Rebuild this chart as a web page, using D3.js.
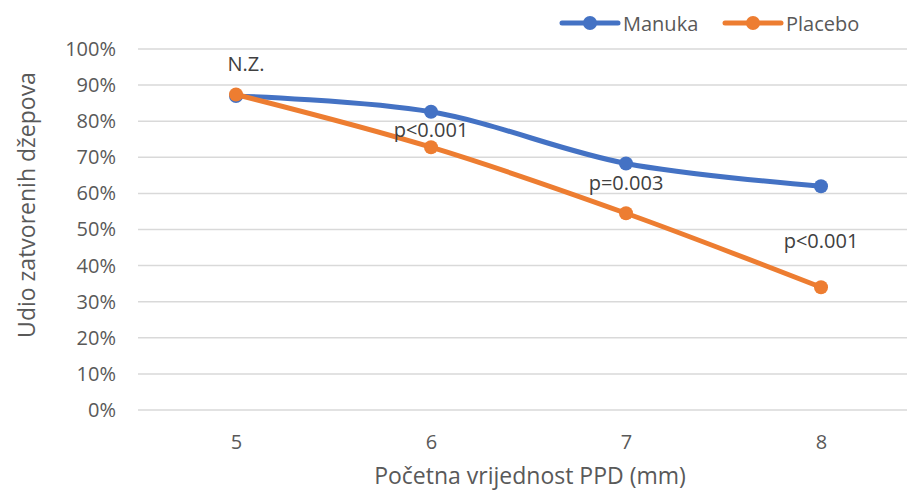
<!DOCTYPE html>
<html>
<head>
<meta charset="utf-8">
<script src="https://cdn.jsdelivr.net/npm/d3@7"></script>
<style>
	body { margin: 0; background: #ffffff; }
	text { font-family: "Open Sans", sans-serif; }
</style>
</head>
<body>
<svg id="chart" width="907" height="491"></svg>
<script>
// Data
var categories = ["5", "6", "7", "8"];
var manuka = [0.87, 0.826, 0.683, 0.62];
var placebo = [0.874, 0.728, 0.545, 0.34];
var series_names = ["Manuka", "Placebo"];
var y_ticks = [0, 0.1, 0.2, 0.3, 0.4, 0.5, 0.6, 0.7, 0.8, 0.9, 1.0];
var notes = ["N.Z.", "p<0.001", "p=0.003", "p<0.001"];

var svg = d3.select("#chart");

var x = d3.scalePoint().domain(categories).range([236, 821]);
var y = d3.scaleLinear().domain([0, 1]).range([410, 49]);

// Horizontal grid lines
svg.append("g")
	.selectAll("line")
	.data(y_ticks)
	.join("line")
	.attr("x1", 138)
	.attr("x2", 918)
	.attr("y1", function(d) { return y(d); })
	.attr("y2", function(d) { return y(d); })
	.attr("stroke", "#d9d9d9")
	.attr("stroke-width", 1.5);

// Y axis labels
var y_axis = d3.axisLeft(y).tickValues(y_ticks).tickFormat(d3.format(".0%")).tickSize(0).tickPadding(0);
svg.append("g")
	.attr("transform", "translate(116,0)")
	.call(y_axis)
	.call(function(g) { g.select(".domain").remove(); })
	.selectAll("text")
	.attr("fill", "#595959")
	.style("font-size", "20px")
	.style("font-family", "'Open Sans', sans-serif");

// X axis labels
var x_axis = d3.axisBottom(x).tickSize(0).tickPadding(0);
svg.append("g")
	.attr("transform", "translate(0,435)")
	.call(x_axis)
	.call(function(g) { g.select(".domain").remove(); })
	.selectAll("text")
	.attr("fill", "#595959")
	.style("font-size", "20px")
	.style("font-family", "'Open Sans', sans-serif");

// Axis titles
svg.append("text")
	.attr("x", 530)
	.attr("y", 484)
	.attr("text-anchor", "middle")
	.attr("fill", "#595959")
	.style("font-size", "23px")
	.text("Početna vrijednost PPD (mm)");

svg.append("text")
	.attr("transform", "translate(35,205) rotate(-90)")
	.attr("text-anchor", "middle")
	.attr("fill", "#595959")
	.style("font-size", "23px")
	.text("Udio zatvorenih džepova");

var colors = { "Manuka": "#4472c4", "Placebo": "#ed7d31" };
var data_by_series = { "Manuka": manuka, "Placebo": placebo };

var line = d3.line()
	.x(function(d, i) { return x(categories[i]); })
	.y(function(d) { return y(d); })
	.curve(d3.curveCatmullRom.alpha(0.5));

series_names.forEach(function(name)
{
	var values = data_by_series[name];
	var g = svg.append("g");
	g.append("path")
		.datum(values)
		.attr("d", line)
		.attr("fill", "none")
		.attr("stroke", colors[name])
		.attr("stroke-width", 5)
		.attr("stroke-linecap", "round");
	g.selectAll("circle")
		.data(values)
		.join("circle")
		.attr("cx", function(d, i) { return x(categories[i]); })
		.attr("cy", function(d) { return y(d); })
		.attr("r", 7)
		.attr("fill", colors[name]);
});

// Significance notes, placed relative to the Manuka point of each category
var note_offset = [[10, -25], [0, 25], [0, 27], [0, 62]];
svg.append("g")
	.selectAll("text")
	.data(notes)
	.join("text")
	.attr("x", function(d, i) { return x(categories[i]) + note_offset[i][0]; })
	.attr("y", function(d, i) { return y(manuka[i]) + note_offset[i][1]; })
	.attr("text-anchor", "middle")
	.attr("fill", "#404040")
	.style("font-size", "20px")
	.text(function(d) { return d; });

// Legend
var legend = svg.append("g");
var legend_x = [562, 725];
series_names.forEach(function(name, i)
{
	var lx = legend_x[i];
	legend.append("line")
		.attr("x1", lx).attr("x2", lx + 56)
		.attr("y1", 23).attr("y2", 23)
		.attr("stroke", colors[name])
		.attr("stroke-width", 5)
		.attr("stroke-linecap", "round");
	legend.append("circle")
		.attr("cx", lx + 28).attr("cy", 23).attr("r", 7)
		.attr("fill", colors[name]);
	legend.append("text")
		.attr("x", lx + 61).attr("y", 31)
		.attr("fill", "#595959")
		.style("font-size", "20px")
		.text(name);
});
</script>
</body>
</html>
